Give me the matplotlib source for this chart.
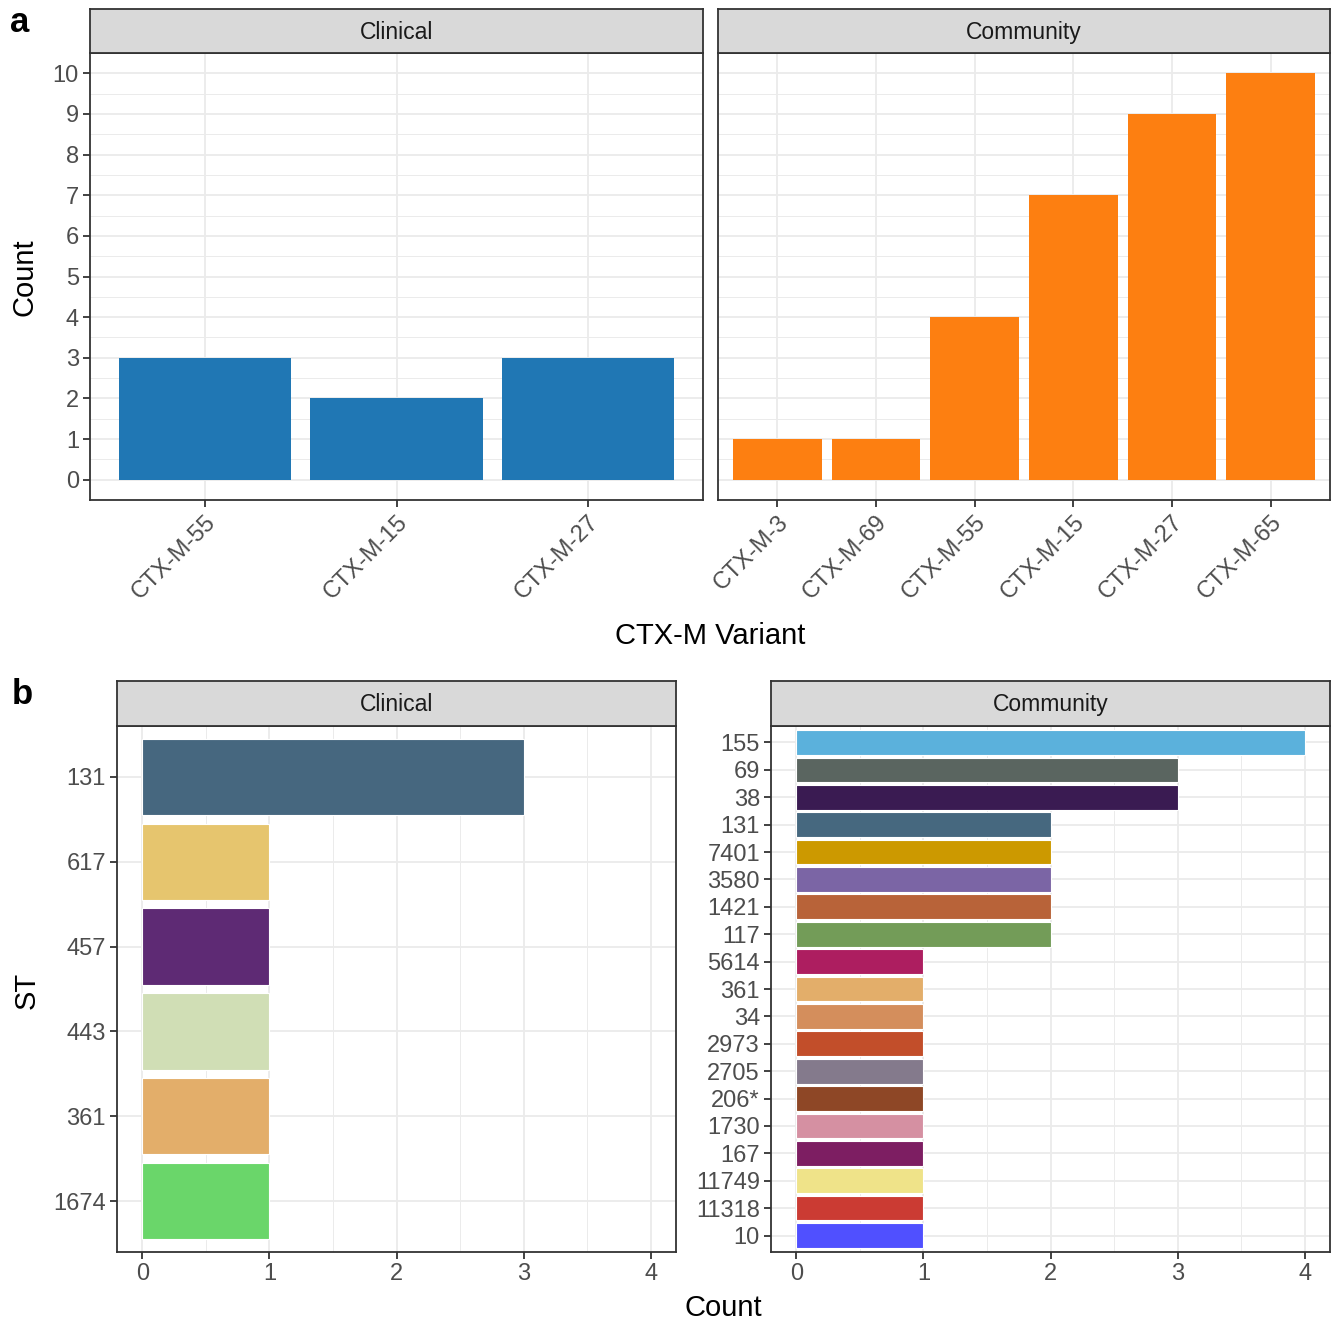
import matplotlib
matplotlib.use("Agg")
import matplotlib.pyplot as plt

plt.rcParams['font.family'] = ['Liberation Sans', 'DejaVu Sans']

# panel a data
clin_var = ['CTX-M-55', 'CTX-M-15', 'CTX-M-27']
clin_var_n = [3, 2, 3]
comm_var = ['CTX-M-3', 'CTX-M-69', 'CTX-M-55', 'CTX-M-15', 'CTX-M-27', 'CTX-M-65']
comm_var_n = [1, 1, 4, 7, 9, 10]

# panel b data (top to bottom)
clin_st = ['131', '617', '457', '443', '361', '1674']
clin_st_n = [3, 1, 1, 1, 1, 1]
clin_st_col = ['#46677F', '#E6C56E', '#5E2A74', '#D0DEB5', '#E3AE6A', '#6AD66A']

comm_st = ['155', '69', '38', '131', '7401', '3580', '1421', '117', '5614', '361',
           '34', '2973', '2705', '206*', '1730', '167', '11749', '11318', '10']
comm_st_n = [4, 3, 3, 2, 2, 2, 2, 2, 1, 1, 1, 1, 1, 1, 1, 1, 1, 1, 1]
comm_st_col = ['#5BB1DC', '#5A6560', '#3A1B52', '#46687F', '#CC9900', '#7B65A5',
               '#B86339', '#739C58', '#AD1E60', '#E3AE6A', '#D48E5C', '#C24E2A',
               '#847A8C', '#8E4726', '#D590A2', '#7D1E62', '#EFE389', '#CB3B33',
               '#5050FF']

W, H = 1337, 1323
fig = plt.figure(figsize=(W / 100, H / 100), dpi=100)

DARK = '#333333'
TICK = '#4D4D4D'
GRID = '#EBEBEB'


def box(x0, x1, y0, y1):
    return [x0 / W, 1 - y1 / H, (x1 - x0) / W, (y1 - y0) / H]


def panel(x0, x1, y0, y1, strip_top, title):
    ax = fig.add_axes(box(x0, x1, y0, y1))
    st = fig.add_axes(box(x0, x1, strip_top, y0))
    st.set_facecolor('#D9D9D9')
    st.set_xticks([])
    st.set_yticks([])
    for s in st.spines.values():
        s.set_color(DARK)
        s.set_linewidth(1.3)
    st.text(0.5, 0.47, title, ha='center', va='center', fontsize=16.5,
            color='#1A1A1A', transform=st.transAxes)
    for s in ax.spines.values():
        s.set_color(DARK)
        s.set_linewidth(1.3)
    ax.set_axisbelow(True)
    ax.tick_params(colors=DARK, labelcolor=TICK, labelsize=17, length=5,
                   width=1.3, which='major', pad=3)
    ax.tick_params(which='minor', length=0)
    return ax


# ---- panel a ----
for (x0, x1, title, cats, vals, col, show_y) in [
        (90, 703, 'Clinical', clin_var, clin_var_n, '#2077B4', True),
        (718, 1330, 'Community', comm_var, comm_var_n, '#FD7F11', False)]:
    ax = panel(x0, x1, 53, 500, 9, title)
    pos = list(range(len(cats)))
    ax.bar(pos, vals, width=0.9, color=col, zorder=2)
    ax.set_xlim(-0.6, len(cats) - 0.4)
    ax.set_ylim(-0.5, 10.5)
    ax.set_yticks(range(0, 11))
    ax.set_yticks([i + 0.5 for i in range(-1, 11)], minor=True)
    ax.set_xticks(pos)
    ax.set_xticklabels(cats, rotation=45, ha='right', va='top',
                       rotation_mode='anchor')
    ax.grid(which='major', color=GRID, lw=1.3)
    ax.grid(which='minor', axis='y', color=GRID, lw=0.7)
    if not show_y:
        ax.tick_params(axis='y', left=False, labelleft=False)

fig.text(25 / W, 1 - 277 / H, 'Count', rotation=90, ha='center', va='center',
         fontsize=21)
fig.text(710 / W, 1 - 636 / H, 'CTX-M Variant', ha='center', va='center',
         fontsize=21)
fig.text(20 / W, 1 - 22 / H, 'a', ha='center', va='center', fontsize=25,
         fontweight='bold')

# ---- panel b ----
for (x0, x1, title, cats, vals, cols) in [
        (117, 676, 'Clinical', clin_st, clin_st_n, clin_st_col),
        (771, 1330, 'Community', comm_st, comm_st_n, comm_st_col)]:
    ax = panel(x0, x1, 726, 1252, 681, title)
    pos = list(range(len(cats)))
    ax.barh(pos, vals, height=0.9, color=cols, edgecolor='white', lw=0.8,
            zorder=2)
    ax.set_ylim(len(cats) - 0.4, -0.6)
    ax.set_xlim(-0.2, 4.2)
    ax.set_xticks(range(0, 5))
    ax.set_xticks([0.5, 1.5, 2.5, 3.5], minor=True)
    ax.set_yticks(pos)
    ax.set_yticklabels(cats)
    ax.grid(which='major', color=GRID, lw=1.3)
    ax.grid(which='minor', axis='x', color=GRID, lw=0.7)

fig.text(27 / W, 1 - 990 / H, 'ST', rotation=90, ha='center', va='center',
         fontsize=21)
fig.text(723 / W, 1 - 1308 / H, 'Count', ha='center', va='center',
         fontsize=21)
fig.text(22 / W, 1 - 695 / H, 'b', ha='center', va='center', fontsize=25,
         fontweight='bold')

fig.savefig('out.png', dpi=100)
